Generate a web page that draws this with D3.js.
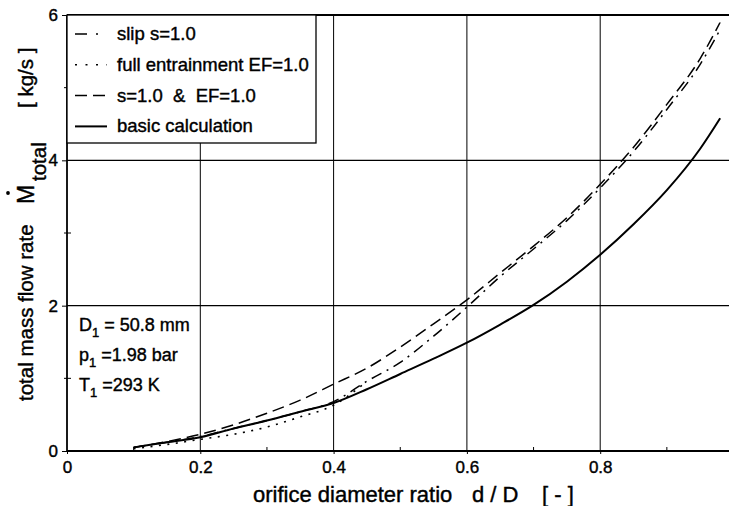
<!DOCTYPE html>
<html>
<head>
<meta charset="utf-8">
<script src="https://cdn.jsdelivr.net/npm/d3@7"></script>
<style>
  html, body { margin: 0; padding: 0; background: #fff; }
  svg { display: block; font-family: "Liberation Sans", Arial, Helvetica, sans-serif; }
  svg text { fill: #000; stroke: #000; stroke-width: 0.4px; }
  .tick-label { font-size: 17px; }
</style>
</head>
<body>
<div id="chart"></div>
<script>
// orifice diameter ratio d/D (x)
const ratioX = [0.10, 0.15, 0.20, 0.25, 0.30, 0.35, 0.40, 0.45, 0.50, 0.55, 0.60, 0.65, 0.70, 0.75, 0.80, 0.85, 0.90, 0.95, 0.98];

// total mass flow rate [kg/s]
const basicCalc   = [0.05, 0.12, 0.19, 0.31, 0.42, 0.54, 0.66, 0.85, 1.06, 1.27, 1.49, 1.74, 2.01, 2.33, 2.70, 3.12, 3.59, 4.16, 4.58];
const slipS1      = [0.05, 0.12, 0.20, 0.31, 0.42, 0.54, 0.68, 0.96, 1.22, 1.58, 1.98, 2.40, 2.78, 3.17, 3.62, 4.12, 4.70, 5.32, 5.80];
const fullEntr    = [0.03, 0.09, 0.16, 0.23, 0.33, 0.47, 0.63, 0.96];   // dotted, hidden under slip curve after 0.45
const slipAndEF   = [0.05, 0.13, 0.23, 0.36, 0.52, 0.70, 0.92, 1.14, 1.43, 1.75, 2.08, 2.45, 2.82, 3.21, 3.67, 4.18, 4.77, 5.40, 5.90];

const xMajorTicks = [0, 0.2, 0.4, 0.6, 0.8];
const xMinorTicks = [0.1, 0.3, 0.5, 0.7, 0.9];
const yMajorTicks = [0, 2, 4, 6];
const yMinorTicks = [1, 3, 5];

const legendLabels = ["slip s=1.0", "full entrainment EF=1.0", "s=1.0  &  EF=1.0", "basic calculation"];

(() => {
  const W = 729, H = 506;
  const svg = d3.select("#chart").append("svg")
    .attr("width", W).attr("height", H)
    .attr("viewBox", `0 0 ${W} ${H}`);

  const x = d3.scaleLinear().domain([0, 1]).range([67, 733.5]);
  const y = d3.scaleLinear().domain([0, 6]).range([451, 15]);

  // === 그리드
  svg.append("g").selectAll("line").data(xMajorTicks.slice(1)).join("line")
    .attr("x1", d => x(d)).attr("x2", d => x(d))
    .attr("y1", y(0)).attr("y2", y(6))
    .attr("stroke", "#000").attr("stroke-width", 1);
  svg.append("g").selectAll("line").data(yMajorTicks.slice(1, -1)).join("line")
    .attr("x1", x(0)).attr("x2", W)
    .attr("y1", d => y(d)).attr("y2", d => y(d))
    .attr("stroke", "#000").attr("stroke-width", 1.2);

  // === 축 (frame)
  svg.append("line").attr("x1", x(0)).attr("x2", W).attr("y1", y(6)).attr("y2", y(6))
    .attr("stroke", "#000").attr("stroke-width", 1.8);

  const xAxis = d3.axisBottom(x).tickValues(xMajorTicks).tickSize(3).tickPadding(4)
    .tickFormat(d => d === 0 ? "0" : d3.format(".1f")(d));
  const gx = svg.append("g").attr("transform", `translate(0,${y(0)})`).call(xAxis);
  gx.select(".domain").attr("d", `M${x(0)},0H${W}`).attr("stroke-width", 1.8);
  gx.selectAll("text").attr("class", "tick-label").attr("dy", "1em").attr("y", 5);

  const yAxis = d3.axisLeft(y).tickValues(yMajorTicks).tickSize(5).tickPadding(4).tickFormat(d3.format("d"));
  const gy = svg.append("g").attr("transform", `translate(${x(0)},0)`).call(yAxis);
  gy.select(".domain").attr("d", `M0,${y(0)}V${y(6)}`).attr("stroke-width", 1.8);
  gy.selectAll("text").attr("class", "tick-label");
  gx.attr("font-family", null).attr("font-size", null);
  gy.attr("font-family", null).attr("font-size", null);

  // minor ticks
  svg.append("g").selectAll("line").data(xMinorTicks).join("line")
    .attr("x1", d => x(d)).attr("x2", d => x(d))
    .attr("y1", y(0)).attr("y2", y(0) - 4)
    .attr("stroke", "#000").attr("stroke-width", 1);
  svg.append("g").selectAll("line").data(yMinorTicks).join("line")
    .attr("x1", x(0) - 3).attr("x2", x(0) + 4)
    .attr("y1", d => y(d)).attr("y2", d => y(d))
    .attr("stroke", "#000").attr("stroke-width", 1);

  // === 라인
  const line = d3.line().curve(d3.curveMonotoneX).x(d => x(d.x)).y(d => y(d.v));
  const series = [
    { label: legendLabels[0], vals: slipS1,    dash: "11 6 2 6", legDash: "12 9 2 9", w: 1.5 },
    { label: legendLabels[1], vals: fullEntr,  dash: "2 6.5",    legDash: "2 8.5",    w: 1.6 },
    { label: legendLabels[2], vals: slipAndEF, dash: "12 6",     legDash: "12 6",     w: 1.5 },
    { label: legendLabels[3], vals: basicCalc, dash: null,       legDash: null,       w: 2 },
  ];
  series.forEach(s => {
    svg.append("path")
      .datum(s.vals.map((v, i) => ({ x: ratioX[i], v })))
      .attr("fill", "none").attr("stroke", "#000")
      .attr("stroke-width", s.w)
      .attr("stroke-dasharray", s.dash)
      .attr("d", line);
  });

  // === 범례
  const lg = svg.append("g");
  lg.append("rect").attr("x", x(0)).attr("y", y(6)).attr("width", 316 - x(0)).attr("height", 143 - y(6))
    .attr("fill", "#fff").attr("stroke", "#000").attr("stroke-width", 1.3);
  series.forEach((s, i) => {
    const by = 40 + i * 30.8;
    lg.append("line").attr("x1", 75).attr("x2", 107).attr("y1", by - 6).attr("y2", by - 6)
      .attr("stroke", "#000").attr("stroke-width", s.w).attr("stroke-dasharray", s.legDash);
    lg.append("text").attr("x", 117).attr("y", by).attr("font-size", 18.5)
      .style("white-space", "pre").text(s.label);
  });

  // === 조건 주석
  const notes = [["D", "1", " = 50.8 mm"], ["p", "1", " =1.98 bar"], ["T", "1", " =293 K"]];
  const noteY = [331, 361, 391];
  notes.forEach((n, i) => {
    const t = svg.append("text").attr("x", 79).attr("y", noteY[i]).attr("font-size", 18)
      .style("white-space", "pre");
    t.append("tspan").text(n[0]);
    t.append("tspan").attr("font-size", 13).attr("dy", 6).text(n[1]);
    t.append("tspan").attr("dy", -6).text(n[2]);
  });

  // === 축 제목
  const xt = svg.append("g").attr("font-size", 22);
  xt.append("text").attr("x", 253).attr("y", 502).text("orifice diameter ratio");
  xt.append("text").attr("x", 472).attr("y", 502).style("white-space", "pre").text("d / D");
  xt.append("text").attr("x", 542).attr("y", 502).style("white-space", "pre").text("[ - ]");

  const yt = svg.append("g").attr("font-size", 20.5);
  const rot = (bx, by, txt, fs) => yt.append("text")
    .attr("transform", `translate(${bx},${by}) rotate(-90)`)
    .attr("font-size", fs || null).style("white-space", "pre").text(txt);
  rot(33, 401, "total mass flow rate");
  rot(34, 204, "M", 23);
  rot(46, 181, "total");
  rot(33, 108, "[ kg/s ]");
  yt.append("circle").attr("cx", 8).attr("cy", 193).attr("r", 1.9).attr("fill", "#000");
})();
</script>
</body>
</html>
